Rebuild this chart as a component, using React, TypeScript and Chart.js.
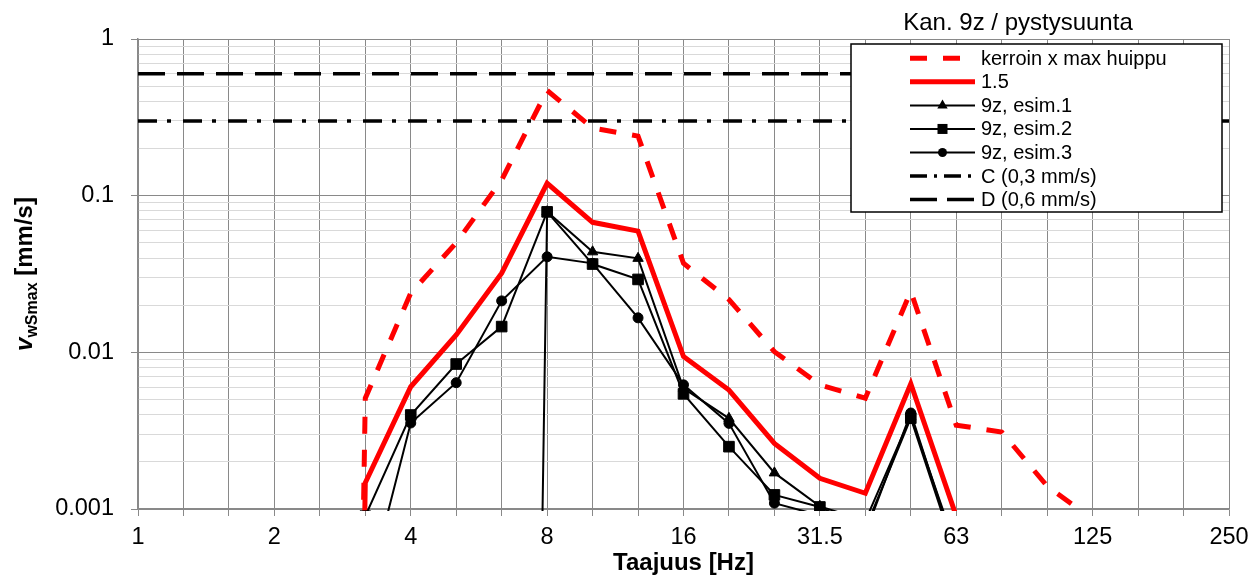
import React, { useEffect, useRef } from 'react';
import { Chart, registerables } from 'chart.js';

Chart.register(...registerables);

// ---- Data ----
const BANDS = ['1', '1.25', '1.6', '2', '2.5', '3.15', '4', '5', '6.3', '8', '10', '12.5', '16', '20', '25', '31.5', '40', '50', '63', '80', '100', '125', '160', '200', '250'];
const X_TICK_LABELS = ['1', '2', '4', '8', '16', '31.5', '63', '125', '250'];
const Y_TICK_LABELS = ['0.001', '0.01', '0.1', '1'];
const Y_GRID_VALUES = [
  0.001, 0.002, 0.003, 0.004, 0.005, 0.006, 0.007, 0.008, 0.009,
  0.01, 0.02, 0.03, 0.04, 0.05, 0.06, 0.07, 0.08, 0.09,
  0.1, 0.2, 0.3, 0.4, 0.5, 0.6, 0.7, 0.8, 0.9, 1,
];

const TITLE = 'Kan. 9z / pystysuunta';
const X_TITLE = 'Taajuus [Hz]';

const KERROIN = [null, null, null, null, 1e-20, 0.0051, 0.0239, 0.050, 0.126, 0.47, 0.27, 0.24, 0.037, 0.0217, 0.0101, 0.0062, 0.0051, 0.0245, 0.00343, 0.0031, 0.0014, 0.00086, null, null, null];
const LIMIT_15 = [null, null, null, null, 1e-20, 0.00147, 0.00603, 0.0129, 0.032, 0.12, 0.0676, 0.0594, 0.0094, 0.00574, 0.00262, 0.00157, 0.00126, 0.0063, 0.0009, 0.00078, 0.00035, 0.00022, null, null, null];
const ESIM1 = [null, null, null, null, null, 1e-20, 1e-20, 1e-20, 1e-20, 0.079, 0.0438, 0.0398, 0.0059, 0.00379, 0.0017, 0.00104, 0.00084, 0.0039, 0.00056, null, null, null, null, null, null];
const ESIM2 = [null, null, null, null, null, 0.0009, 0.00398, 0.00842, 0.0146, 0.0788, 0.0366, 0.0292, 0.00543, 0.0025, 0.00123, 0.00103, 0.00075, 0.0038, 0.0005, null, null, null, null, null, null];
const ESIM3 = [null, null, null, null, null, 0.00026, 0.00354, 0.0064, 0.0213, 0.0407, 0.037, 0.0166, 0.0062, 0.00352, 0.00109, 0.00091, 0.0007, 0.0041, 0.00052, null, null, null, null, null, null];
const C_LEVEL = 0.3;
const D_LEVEL = 0.6;
const C_LINE = BANDS.map(() => C_LEVEL);
const D_LINE = BANDS.map(() => D_LEVEL);

const LEGEND_LABELS = ['kerroin x max huippu', '1.5', '9z, esim.1', '9z, esim.2', '9z, esim.3', 'C (0,3 mm/s)', 'D (0,6 mm/s)'];

// ---- Styles ----
const FONT = '"Liberation Sans", Arial, sans-serif';
const GRID_MAJOR = '#898989';
const GRID_MINOR = '#d9d9d9';
const RED = '#ff0000';

const isDecade = (v: number) => {
  if (!(v > 0)) return false;
  const l = Math.log10(v);
  return Math.abs(l - Math.round(l)) < 1e-9;
};

const overlayPlugin = {
  id: 'overlay',
  afterDraw(chart: any) {
    const ctx = chart.ctx as CanvasRenderingContext2D;
    const area = chart.chartArea;
    ctx.save();

    // chart title
    ctx.fillStyle = '#000';
    ctx.font = `24px ${FONT}`;
    ctx.textAlign = 'center';
    ctx.textBaseline = 'alphabetic';
    ctx.fillText(TITLE, 1018, 30);

    // x title
    ctx.font = `bold 24px ${FONT}`;
    ctx.fillText(X_TITLE, (area.left + area.right) / 2, 570);

    // y title (rotated, with subscript)
    ctx.save();
    ctx.translate(32, (area.top + area.bottom) / 2);
    ctx.rotate(-Math.PI / 2);
    ctx.textAlign = 'left';
    const f1 = `italic bold 24px ${FONT}`;
    const f2 = `bold 16px ${FONT}`;
    const f3 = `bold 24px ${FONT}`;
    ctx.font = f1; const w1 = ctx.measureText('v').width;
    ctx.font = f2; const w2 = ctx.measureText('wSmax').width;
    ctx.font = f3; const w3 = ctx.measureText(' [mm/s]').width;
    let x = -(w1 + w2 + w3) / 2;
    ctx.font = f1; ctx.fillText('v', x, 0); x += w1;
    ctx.font = f2; ctx.fillText('wSmax', x, 5); x += w2;
    ctx.font = f3; ctx.fillText(' [mm/s]', x, 0);
    ctx.restore();

    // legend
    const lx = 851, ly = 44, lw = 371, lh = 168;
    ctx.fillStyle = '#fff';
    ctx.fillRect(lx, ly, lw, lh);
    ctx.strokeStyle = '#000';
    ctx.lineWidth = 1.5;
    ctx.strokeRect(lx, ly, lw, lh);

    const x0 = 910, x1 = 975, xm = 942.5, tx = 981;
    const rowY = (i: number) => 58.3 + i * 23.55;
    ctx.font = `20px ${FONT}`;
    ctx.textAlign = 'left';
    ctx.textBaseline = 'middle';
    LEGEND_LABELS.forEach((label, i) => {
      const y = rowY(i);
      ctx.save();
      ctx.beginPath();
      if (i === 0) {
        ctx.strokeStyle = RED; ctx.lineWidth = 5; ctx.setLineDash([17, 16]);
      } else if (i === 1) {
        ctx.strokeStyle = RED; ctx.lineWidth = 5; ctx.setLineDash([]);
      } else if (i <= 4) {
        ctx.strokeStyle = '#000'; ctx.lineWidth = 2; ctx.setLineDash([]);
      } else if (i === 5) {
        ctx.strokeStyle = '#000'; ctx.lineWidth = 3.5; ctx.setLineDash([17, 7, 3, 7]);
      } else {
        ctx.strokeStyle = '#000'; ctx.lineWidth = 3.5; ctx.setLineDash([27, 10]);
      }
      ctx.moveTo(x0, y);
      ctx.lineTo(x1, y);
      ctx.stroke();
      ctx.setLineDash([]);
      ctx.fillStyle = '#000';
      if (i === 2) {
        ctx.beginPath();
        ctx.moveTo(xm, y - 6);
        ctx.lineTo(xm + 5.2, y + 3);
        ctx.lineTo(xm - 5.2, y + 3);
        ctx.closePath();
        ctx.fill();
      } else if (i === 3) {
        ctx.fillRect(xm - 5, y - 5, 10, 10);
      } else if (i === 4) {
        ctx.beginPath();
        ctx.arc(xm, y, 4.5, 0, Math.PI * 2);
        ctx.fill();
      }
      ctx.restore();
      ctx.fillStyle = '#000';
      ctx.fillText(label, tx, y + 1);
    });

    ctx.restore();
  },
};

export default function App() {
  const ref = useRef<HTMLCanvasElement | null>(null);

  useEffect(() => {
    document.body.style.margin = '0';
    const canvas = ref.current;
    if (!canvas) return;

    const blackSeries = (label: string, data: any[], pointStyle: string, radius: number) => ({
      label,
      data,
      borderColor: '#000',
      backgroundColor: '#000',
      borderWidth: 2,
      pointStyle,
      pointRadius: radius,
      pointBorderWidth: 1,
      pointBackgroundColor: '#000',
      pointBorderColor: '#000',
      tension: 0,
      clip: 2,
    });

    // first dataset is drawn on top in Chart.js
    const datasets: any[] = [
      {
        label: LEGEND_LABELS[6], data: D_LINE, borderColor: '#000', borderWidth: 3.5,
        borderDash: [27, 12], pointRadius: 0, clip: 2,
      },
      {
        label: LEGEND_LABELS[5], data: C_LINE, borderColor: '#000', borderWidth: 3.5,
        borderDash: [19, 10, 4, 12], pointRadius: 0, clip: 2,
      },
      blackSeries(LEGEND_LABELS[4], ESIM3, 'circle', 5),
      blackSeries(LEGEND_LABELS[3], ESIM2, 'rect', 7.5),
      blackSeries(LEGEND_LABELS[2], ESIM1, 'triangle', 6),
      {
        label: LEGEND_LABELS[1], data: LIMIT_15, borderColor: RED, borderWidth: 5,
        pointRadius: 0, clip: 2, borderJoinStyle: 'miter',
      },
      {
        label: LEGEND_LABELS[0], data: KERROIN, borderColor: RED, borderWidth: 5,
        borderDash: [17, 16], pointRadius: 0, clip: 2,
      },
    ];

    const chart = new Chart(canvas, {
      type: 'line',
      data: { labels: BANDS, datasets },
      options: {
        animation: false,
        responsive: false,
        maintainAspectRatio: false,
        devicePixelRatio: 1,
        layout: { padding: { top: 39, right: 31, bottom: 0, left: 0 } },
        plugins: {
          legend: { display: false },
          title: { display: false },
          tooltip: { enabled: false },
        },
        scales: {
          x: {
            type: 'category',
            offset: false,
            grid: {
              color: GRID_MAJOR,
              lineWidth: 1,
              drawTicks: true,
              tickLength: 7,
              tickColor: GRID_MAJOR,
            },
            border: { display: true, color: GRID_MAJOR, width: 1.5 },
            ticks: {
              autoSkip: false,
              maxRotation: 0,
              minRotation: 0,
              padding: 7,
              color: '#000',
              font: { family: FONT, size: 23.5 },
              callback: (_v: any, i: number) => (X_TICK_LABELS.includes(BANDS[i]) ? BANDS[i] : ''),
            },
            afterFit: (s: any) => { s.height = 69; },
          },
          y: {
            type: 'logarithmic',
            min: 0.001,
            max: 1,
            afterBuildTicks: (s: any) => { s.ticks = Y_GRID_VALUES.map((v) => ({ value: v, major: isDecade(v) })); },
            grid: {
              color: (c: any) => (isDecade(c.tick && c.tick.value) ? GRID_MAJOR : GRID_MINOR),
              tickColor: (c: any) => (isDecade(c.tick && c.tick.value) ? GRID_MAJOR : 'rgba(0,0,0,0)'),
              lineWidth: 1,
              drawTicks: true,
              tickLength: 7,
            },
            border: { display: true, color: GRID_MAJOR, width: 1.5 },
            ticks: {
              autoSkip: false,
              padding: 17,
              color: '#000',
              font: { family: FONT, size: 23.5 },
              callback: (v: any) => {
                const n = Number(v);
                if (!isDecade(n)) return '';
                return Y_TICK_LABELS[Math.round(Math.log10(n)) + 3];
              },
            },
            afterFit: (s: any) => { s.width = 138; },
          },
        },
      } as any,
      plugins: [overlayPlugin],
    });

    return () => chart.destroy();
  }, []);

  return (
    <div style={{ width: 1260, height: 578, position: 'relative', background: '#fff' }}>
      <canvas ref={ref} width={1260} height={578} style={{ width: 1260, height: 578, display: 'block' }} />
    </div>
  );
}
